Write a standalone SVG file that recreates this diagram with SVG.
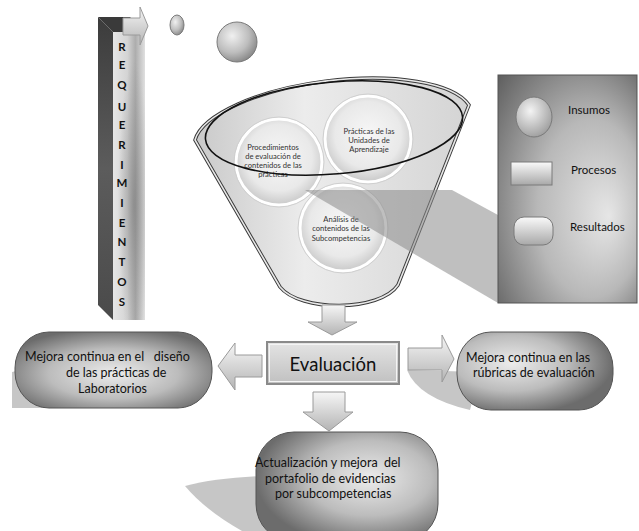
<svg xmlns="http://www.w3.org/2000/svg" width="639" height="531" viewBox="0 0 639 531">
  <defs>
    <style>
      .lbl { font-family: Lato, "Open Sans", "Liberation Sans", sans-serif; fill: #111; }
      .node-text { font-size: 12.5px; white-space: pre; }
      .bubble-text { font-size: 7.6px; fill: #333; text-anchor: middle; }
      .letter { font-size: 11.5px; font-weight: bold; text-anchor: middle; fill: #111; }
      .legend-text { font-size: 11.5px; fill: #111; }
      .blk-arrow { fill: url(#arrowGrad); stroke: #9a9a9a; stroke-width: 1; }
      .node-shape { stroke: #555; stroke-width: 1; }
      .shadow { fill: #c6c6c6; }
      .bubble { fill: url(#bubbleGrad); stroke: #ffffff; stroke-width: 3; }
      .bubble-rim { fill: none; stroke: #cfcfcf; stroke-width: 1; }
    </style>
    <linearGradient id="colFront" x1="0" y1="0" x2="1" y2="0">
      <stop offset="0" stop-color="#e6e6e6"/>
      <stop offset="0.45" stop-color="#d4d4d4"/>
      <stop offset="0.7" stop-color="#adadad"/>
      <stop offset="1" stop-color="#e0e0e0"/>
    </linearGradient>
    <radialGradient id="colShade" cx="0.65" cy="0.6" r="0.5">
      <stop offset="0" stop-color="#6a6a6a" stop-opacity="0.5"/>
      <stop offset="1" stop-color="#6a6a6a" stop-opacity="0"/>
    </radialGradient>
    <linearGradient id="colSide" x1="0" y1="0" x2="0" y2="1">
      <stop offset="0" stop-color="#3c3c3c"/>
      <stop offset="0.5" stop-color="#5c5c5c"/>
      <stop offset="1" stop-color="#4a4a4a"/>
    </linearGradient>
    <radialGradient id="sphereGrad" cx="0.38" cy="0.35" r="0.7">
      <stop offset="0" stop-color="#f0f0f0"/>
      <stop offset="0.6" stop-color="#bdbdbd"/>
      <stop offset="1" stop-color="#858585"/>
    </radialGradient>
    <linearGradient id="funnelGrad" x1="0" y1="0" x2="1" y2="0">
      <stop offset="0" stop-color="#c9c9c9"/>
      <stop offset="0.4" stop-color="#ececec"/>
      <stop offset="1" stop-color="#d4d4d4"/>
    </linearGradient>
    <radialGradient id="bubbleGrad" cx="0.5" cy="0.45" r="0.55">
      <stop offset="0" stop-color="#f7f7f7"/>
      <stop offset="0.7" stop-color="#e9e9e9"/>
      <stop offset="1" stop-color="#c9c9c9"/>
    </radialGradient>
    <radialGradient id="legendGrad" cx="0.55" cy="0.55" r="0.78" fx="0.8" fy="0.62">
      <stop offset="0" stop-color="#e6e6e6"/>
      <stop offset="0.5" stop-color="#b8b8b8"/>
      <stop offset="1" stop-color="#5e5e5e"/>
    </radialGradient>
    <radialGradient id="legendEllipse" cx="0.4" cy="0.35" r="0.7">
      <stop offset="0" stop-color="#f4f4f4"/>
      <stop offset="1" stop-color="#9c9c9c"/>
    </radialGradient>
    <linearGradient id="legendRect" x1="0" y1="0" x2="0" y2="1">
      <stop offset="0" stop-color="#fafafa"/>
      <stop offset="1" stop-color="#a8a8a8"/>
    </linearGradient>
    <linearGradient id="arrowGrad" x1="0" y1="0" x2="0" y2="1">
      <stop offset="0" stop-color="#f6f6f6"/>
      <stop offset="1" stop-color="#b4b4b4"/>
    </linearGradient>
    <linearGradient id="evalGrad" x1="0" y1="0" x2="0" y2="1">
      <stop offset="0" stop-color="#e4e4e4"/>
      <stop offset="1" stop-color="#c0c0c0"/>
    </linearGradient>
    <radialGradient id="nodeGradL" cx="0.5" cy="0.55" r="0.6">
      <stop offset="0" stop-color="#ececec"/>
      <stop offset="0.55" stop-color="#bcbcbc"/>
      <stop offset="1" stop-color="#6c6c6c"/>
    </radialGradient>
    <radialGradient id="nodeGradR" cx="0.35" cy="0.4" r="0.65">
      <stop offset="0" stop-color="#ececec"/>
      <stop offset="0.55" stop-color="#bcbcbc"/>
      <stop offset="1" stop-color="#6c6c6c"/>
    </radialGradient>
    <radialGradient id="nodeGradB" cx="0.62" cy="0.42" r="0.62">
      <stop offset="0" stop-color="#ececec"/>
      <stop offset="0.55" stop-color="#bcbcbc"/>
      <stop offset="1" stop-color="#6c6c6c"/>
    </radialGradient>
  </defs>

  <rect width="639" height="531" fill="#ffffff"/>

  <!-- vertical "REQUERIMIENTOS" column -->
  <g id="requerimientos">
    <polygon points="98,17 113,32 113,320 98,305" fill="url(#colSide)"/>
    <polygon points="98,17 130,17 145,32 113,32" fill="#3a3a3a"/>
    <rect x="113" y="32" width="32" height="288" fill="url(#colFront)"/>
    <rect x="113" y="32" width="32" height="288" fill="url(#colShade)"/>
    <g class="lbl letter">
      <text x="122" y="51">R</text>
      <text x="122" y="69">E</text>
      <text x="122" y="89">Q</text>
      <text x="122" y="111">U</text>
      <text x="122" y="129">E</text>
      <text x="122" y="149">R</text>
      <text x="122" y="169">I</text>
      <text x="122" y="187">M</text>
      <text x="122" y="207">I</text>
      <text x="122" y="227">E</text>
      <text x="122" y="246">N</text>
      <text x="122" y="266">T</text>
      <text x="122" y="286">O</text>
      <text x="122" y="306">S</text>
    </g>
  </g>

  <!-- arrow leaving the column and the two input spheres -->
  <g id="input-spheres">
    <polygon class="blk-arrow" points="123,18 140,18 140,7 148,26 140,45 140,35 123,35"/>
    <ellipse cx="177" cy="25" rx="7" ry="10" fill="url(#sphereGrad)" stroke="#7a7a7a" stroke-width="1"/>
    <circle cx="237" cy="42" r="20" fill="url(#sphereGrad)" stroke="#7a7a7a" stroke-width="1"/>
  </g>

  <!-- funnel with the three input bubbles -->
  <g id="funnel">
    <path d="M195,140 A140,50 -7 0 1 469,105 L398,285 C380,312 300,312 280,287 Z" fill="url(#funnelGrad)" stroke="#3a3a3a" stroke-width="3.5"/>
    <path d="M195,140 A140,50 -7 0 1 469,105 L398,285 C380,312 300,312 280,287 Z" fill="none" stroke="#e8e8e8" stroke-width="1.6"/>
  </g>

  <g id="procedimientos">
    <circle class="bubble" cx="279" cy="162" r="43"/>
    <circle class="bubble-rim" cx="279" cy="162" r="45"/>
    <text class="lbl bubble-text" x="273" y="150">Procedimientos</text>
    <text class="lbl bubble-text" x="273" y="159">de evaluación de</text>
    <text class="lbl bubble-text" x="273" y="168">contenidos de las</text>
    <text class="lbl bubble-text" x="273" y="177">prácticas</text>
  </g>

  <g id="practicas">
    <circle class="bubble" cx="368" cy="139" r="43"/>
    <circle class="bubble-rim" cx="368" cy="139" r="45"/>
    <text class="lbl bubble-text" x="369" y="134">Prácticas de las</text>
    <text class="lbl bubble-text" x="369" y="143">Unidades de</text>
    <text class="lbl bubble-text" x="369" y="152">Aprendizaje</text>
  </g>

  <g id="analisis">
    <circle class="bubble" cx="343" cy="228" r="43"/>
    <circle class="bubble-rim" cx="343" cy="228" r="45"/>
    <text class="lbl bubble-text" x="341" y="222">Análisis de</text>
    <text class="lbl bubble-text" x="341" y="231">contenidos de las</text>
    <text class="lbl bubble-text" x="341" y="241">Subcompetencias</text>
  </g>

  <!-- funnel mouth outline drawn over the bubbles -->
  <ellipse cx="334" cy="128" rx="129" ry="46" transform="rotate(-5 334 128)" fill="none" stroke="#111" stroke-width="1.6"/>

  <!-- cast shadow from the legend panel -->
  <polygon points="305,190 452,190 498,215 498,303" fill="#8a8a8a" fill-opacity="0.55"/>

  <!-- legend -->
  <g id="legend">
    <rect x="498" y="75" width="139" height="228" fill="url(#legendGrad)" stroke="#555" stroke-width="1"/>
    <ellipse cx="534" cy="117" rx="18" ry="20" fill="url(#legendEllipse)" stroke="#7a7a7a" stroke-width="1"/>
    <text class="lbl legend-text" x="568" y="114">Insumos</text>
    <rect x="511" y="162" width="41" height="23" fill="url(#legendRect)" stroke="#7a7a7a" stroke-width="1"/>
    <text class="lbl legend-text" x="571" y="174">Procesos</text>
    <rect x="514" y="217" width="39" height="28" rx="10" ry="10" fill="url(#legendRect)" stroke="#7a7a7a" stroke-width="1"/>
    <text class="lbl legend-text" x="570" y="231">Resultados</text>
  </g>

  <!-- shadows under the result nodes -->
  <g id="node-shadows">
    <path class="shadow" d="M55,362 L12,372 L12,408 L70,408 Z"/>
    <path class="shadow" d="M407,370 Q418,398 470,410 L480,372 Z"/>
    <path class="shadow" d="M185,486 Q215,478 262,476 L266,531 L242,531 Q205,510 185,486 Z"/>
  </g>

  <!-- block-arrow connectors -->
  <g id="connectors">
    <polygon class="blk-arrow" points="322,305 345,305 345,322 357,322 332,335 308,322 322,322"/>
    <polygon class="blk-arrow" points="262,355 235,355 235,343 218,366 235,390 235,377 262,377"/>
    <polygon class="blk-arrow" points="408,348 442,348 442,335 454,359 442,382 442,370 408,370"/>
    <polygon class="blk-arrow" points="313,392 345,392 345,412 353,412 329,431 303,412 313,412"/>
  </g>

  <g id="evaluacion">
    <rect x="267" y="342" width="132" height="42" fill="url(#evalGrad)" stroke="#8a8a8a" stroke-width="2"/>
    <rect x="269.5" y="344.5" width="127" height="37" fill="none" stroke="#f4f4f4" stroke-width="1"/>
    <text class="lbl" x="333" y="371" font-size="18.5" text-anchor="middle">Evaluación</text>
  </g>

  <g id="mejora-laboratorios">
    <rect class="node-shape" x="15" y="332" width="197" height="76" rx="34" ry="36" fill="url(#nodeGradL)"/>
    <text class="lbl node-text" x="25" y="361">Mejora continua en el   diseño</text>
    <text class="lbl node-text" x="66" y="377">de las prácticas de</text>
    <text class="lbl node-text" x="78" y="393">Laboratorios</text>
  </g>

  <g id="mejora-rubricas">
    <rect class="node-shape" x="457" y="332" width="156" height="78" rx="34" ry="36" fill="url(#nodeGradR)"/>
    <text class="lbl node-text" x="466" y="362">Mejora continua en las</text>
    <text class="lbl node-text" x="473" y="377">rúbricas de evaluación</text>
  </g>

  <g id="portafolio">
    <rect class="node-shape" x="256" y="432" width="182" height="110" rx="38" ry="38" fill="url(#nodeGradB)"/>
    <text class="lbl node-text" x="255" y="467">Actualización y mejora  del</text>
    <text class="lbl node-text" x="265" y="483">portafolio de evidencias</text>
    <text class="lbl node-text" x="275" y="498">por subcompetencias</text>
  </g>
</svg>
